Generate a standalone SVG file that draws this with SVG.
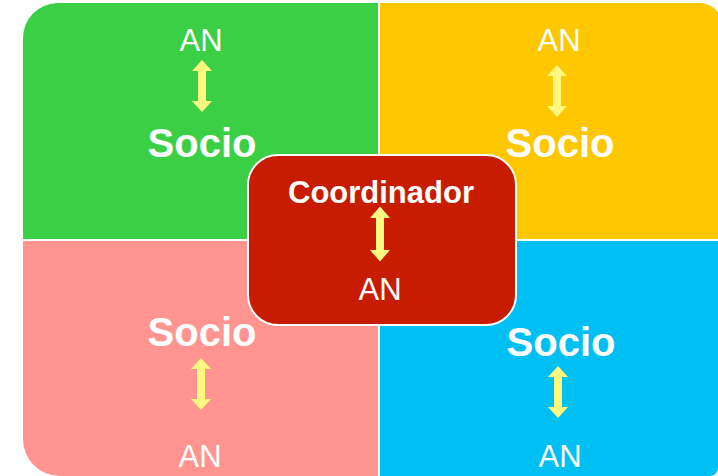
<svg xmlns="http://www.w3.org/2000/svg" width="718" height="476" viewBox="0 0 718 476">
<style>
.t{fill:#fff;font-family:"Liberation Sans",Arial,sans-serif;text-anchor:middle}
.an{font-size:31px}
.socio{font-size:40px;font-weight:bold}
.coord{font-size:31px;font-weight:bold}
.arr{fill:#FFF980}
</style>
<defs>
<path id="dbl" d="M0,-26 L10,-15 L4,-15 L4,15 L10,15 L0,26 L-10,15 L-4,15 L-4,-15 L-10,-15 Z"/>
</defs>
<rect width="718" height="476" fill="#fff"/>
<g id="q-green">
<path d="M23,239 V38 A35,35 0 0 1 58,3 H378 V239 Z" fill="#3ACF45"/>
<text class="t an" x="201" y="51">AN</text>
<use href="#dbl" class="arr" transform="translate(202,86)"/>
<text class="t socio" x="202" y="157">Socio</text>
</g>
<g id="q-yellow">
<path d="M380,3 H700 A22,22 0 0 1 722,25 V239 H380 Z" fill="#FFC700"/>
<text class="t an" x="559" y="51">AN</text>
<use href="#dbl" class="arr" transform="translate(557,91)"/>
<text class="t socio" x="560" y="157">Socio</text>
</g>
<g id="q-pink">
<path d="M23,241 H378 V476 H60 A37,37 0 0 1 23,439 Z" fill="#FF9490"/>
<text class="t socio" x="202" y="346">Socio</text>
<use href="#dbl" class="arr" transform="translate(201,384)"/>
<text class="t an" x="200" y="467">AN</text>
</g>
<g id="q-blue">
<path d="M380,241 H718 V468 A8,8 0 0 1 710,476 H380 Z" fill="#00BFF2"/>
<text class="t socio" x="561" y="356">Socio</text>
<use href="#dbl" class="arr" transform="translate(558,392)"/>
<text class="t an" x="560" y="467">AN</text>
</g>
<g id="center">
<rect x="248" y="155" width="268" height="170" rx="30" ry="30" fill="#C81C00" stroke="#fff" stroke-width="2"/>
<text class="t coord" x="381" y="203">Coordinador</text>
<use href="#dbl" class="arr" transform="translate(380,234) scale(1,1.06)"/>
<text class="t an" x="380" y="300">AN</text>
</g>
<g id="connectors"></g>
</svg>
